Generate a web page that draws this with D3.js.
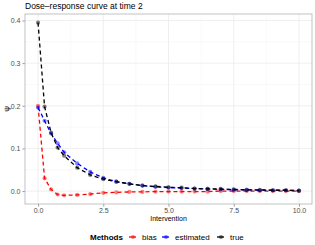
<!DOCTYPE html>
<html>
<head>
<meta charset="utf-8">
<script src="https://cdn.jsdelivr.net/npm/d3@7"></script>
<style>
  body { margin: 0; background: #fff; }
  text { font-family: "Liberation Sans", Arial, sans-serif; }
</style>
</head>
<body>
<script>
// Data
var doses = [0, 0.25, 0.5, 0.75, 1, 1.5, 2, 2.5, 3, 3.5, 4, 4.5, 5, 5.5, 6, 6.5, 7, 7.5, 8, 8.5, 9, 9.5, 10];
var trueVals = [0.395, 0.198, 0.137, 0.102, 0.083, 0.055, 0.038, 0.028, 0.022, 0.017, 0.013, 0.011, 0.009, 0.008, 0.006, 0.005, 0.005, 0.004, 0.003, 0.003, 0.002, 0.002, 0.001];
var estVals = [0.196, 0.165, 0.135, 0.112, 0.091, 0.065, 0.045, 0.031, 0.022, 0.017, 0.013, 0.010, 0.008, 0.007, 0.006, 0.005, 0.004, 0.003, 0.003, 0.002, 0.002, 0.002, 0.001];
var biasVals = [0.200, 0.030, 0.004, -0.008, -0.010, -0.009, -0.007, -0.004, -0.003, -0.002, -0.002, -0.001, -0.001, -0.001, -0.001, -0.001, 0.000, 0.000, 0.000, 0.000, 0.000, 0.000, 0.000];
var methods = ["bias", "estimated", "true"];
var methodColors = ["#FF0000", "#0000FF", "#000000"];
var xTicks = [0, 2.5, 5, 7.5, 10];
var yTicks = [0, 0.1, 0.2, 0.3, 0.4];

var svgWidth = 315, svgHeight = 245;
var margin = { top: 14, right: 3, bottom: 41, left: 25 };
var width = svgWidth - margin.left - margin.right;
var height = svgHeight - margin.top - margin.bottom;

var svg = d3.select("body").append("svg")
  .attr("width", svgWidth)
  .attr("height", svgHeight);

var series = [
  { name: methods[0], values: biasVals, color: methodColors[0] },
  { name: methods[1], values: estVals, color: methodColors[1] },
  { name: methods[2], values: trueVals, color: methodColors[2] }
];

// ggplot-like 5% expansion
var allY = biasVals.concat(estVals, trueVals);
var yMin = d3.min(allY), yMax = d3.max(allY);
var yPad = (yMax - yMin) * 0.05;
var xPad = (d3.max(doses) - d3.min(doses)) * 0.05;

var x = d3.scaleLinear()
  .domain([d3.min(doses) - xPad, d3.max(doses) + xPad])
  .range([0, width]);
var y = d3.scaleLinear()
  .domain([yMin - yPad, yMax + yPad])
  .range([height, 0]);

var g = svg.append("g")
  .attr("transform", `translate(${margin.left}, ${margin.top})`);

// minor grid
var xMinor = [1.25, 3.75, 6.25, 8.75];
var yMinor = [0.05, 0.15, 0.25, 0.35];
g.selectAll(".xminor").data(xMinor).enter().append("line")
  .attr("x1", d => x(d)).attr("x2", d => x(d))
  .attr("y1", 0).attr("y2", height)
  .attr("stroke", "#f2f2f2").attr("stroke-width", 0.5);
g.selectAll(".yminor").data(yMinor).enter().append("line")
  .attr("y1", d => y(d)).attr("y2", d => y(d))
  .attr("x1", 0).attr("x2", width)
  .attr("stroke", "#f2f2f2").attr("stroke-width", 0.5);

// major grid
g.selectAll(".xmajor").data(xTicks).enter().append("line")
  .attr("x1", d => x(d)).attr("x2", d => x(d))
  .attr("y1", 0).attr("y2", height)
  .attr("stroke", "#ebebeb").attr("stroke-width", 0.8);
g.selectAll(".ymajor").data(yTicks).enter().append("line")
  .attr("y1", d => y(d)).attr("y2", d => y(d))
  .attr("x1", 0).attr("x2", width)
  .attr("stroke", "#ebebeb").attr("stroke-width", 0.8);

// axes
var bottomAxis = d3.axisBottom(x).tickValues(xTicks).tickFormat(d3.format(".1f")).tickSize(2.5).tickPadding(2);
var leftAxis = d3.axisLeft(y).tickValues(yTicks).tickFormat(d3.format(".1f")).tickSize(2.5).tickPadding(2);

var xg = g.append("g").attr("transform", `translate(0, ${height})`).call(bottomAxis);
var yg = g.append("g").call(leftAxis);
[xg, yg].forEach(function(a) {
  a.select(".domain").remove();
  a.selectAll(".tick line").attr("stroke", "#333333").attr("stroke-width", 0.5);
  a.selectAll(".tick text").attr("fill", "#4d4d4d").style("font-size", "7px");
});

// lines and points
var line = d3.line()
  .x((d, i) => x(doses[i]))
  .y(d => y(d));

series.forEach(function(s) {
  g.append("path")
    .datum(s.values)
    .attr("d", line)
    .attr("fill", "none")
    .attr("stroke", s.color)
    .attr("stroke-width", 1.3)
    .attr("stroke-dasharray", "4,3");
  g.selectAll(null).data(s.values).enter().append("circle")
    .attr("cx", (d, i) => x(doses[i]))
    .attr("cy", d => y(d))
    .attr("r", 2.1)
    .attr("fill", s.color)
    .attr("fill-opacity", 0.5);
});

// panel border
g.append("rect")
  .attr("width", width).attr("height", height)
  .attr("fill", "none").attr("stroke", "#b3b3b3").attr("stroke-width", 0.8);

// title and labels
svg.append("text")
  .attr("x", margin.left).attr("y", 9)
  .style("font-size", "8.5px").attr("fill", "#000000")
  .text("Dose\u2013response curve at time 2");

svg.append("text")
  .attr("x", margin.left + width / 2).attr("y", 221)
  .attr("text-anchor", "middle")
  .attr("fill", "#000000")
  .style("font-size", "7px")
  .text("Intervention");

svg.append("text")
  .attr("transform", `translate(9, ${margin.top + height / 2}) rotate(-90)`)
  .attr("text-anchor", "middle")
  .attr("fill", "#000000")
  .style("font-size", "8px")
  .text("\u03c8");

// legend
var legend = svg.append("g").attr("transform", "translate(90, 237)");
legend.append("text")
  .attr("x", 0).attr("y", 3)
  .attr("fill", "#000000")
  .style("font-size", "8px").style("font-weight", "bold")
  .text("Methods");
var keyX = [43, 76, 131];
series.forEach(function(s, i) {
  var kg = legend.append("g").attr("transform", `translate(${keyX[i]}, 0)`);
  kg.append("line").attr("x1", -4).attr("x2", 3).attr("y1", 0).attr("y2", 0)
    .attr("stroke", s.color).attr("stroke-width", 1.3);
  kg.append("circle").attr("r", 2.1).attr("fill", s.color).attr("fill-opacity", 0.5);
  kg.append("text").attr("x", 9).attr("y", 3)
    .style("font-size", "8px").attr("fill", "#000000")
    .text(s.name);
});
</script>
</body>
</html>
